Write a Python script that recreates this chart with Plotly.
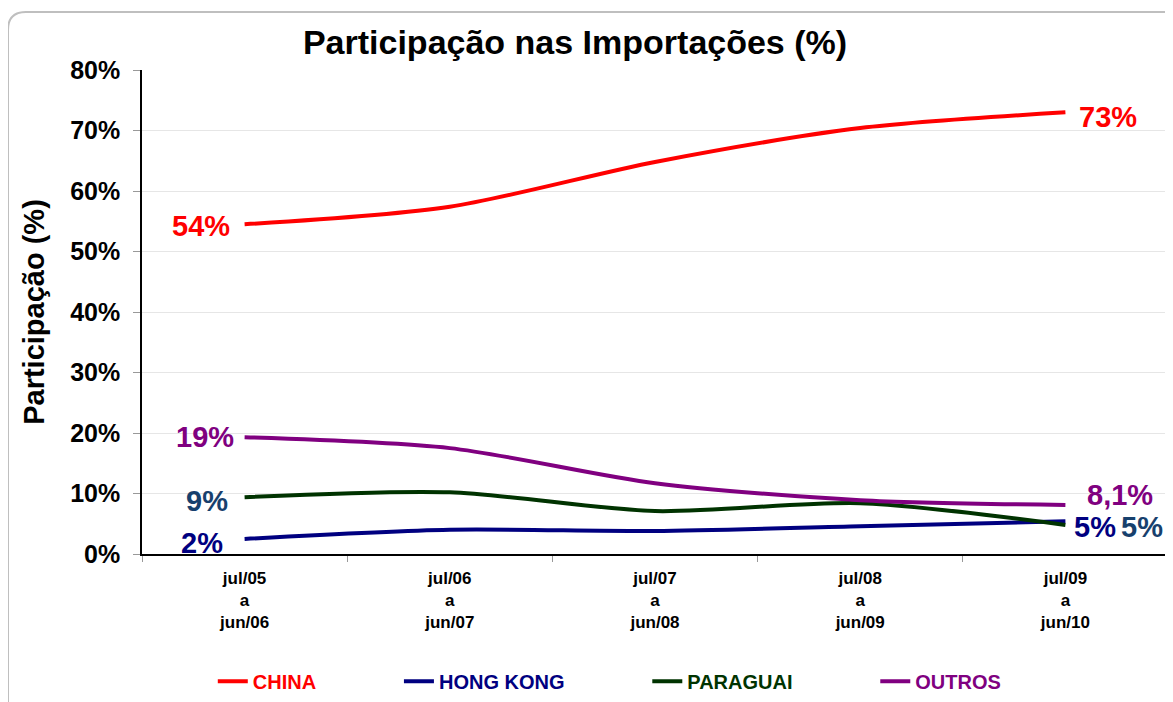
import plotly.graph_objects as go

# --- dados ---
periodos = ['jul/05<br>a<br>jun/06', 'jul/06<br>a<br>jun/07', 'jul/07<br>a<br>jun/08',
            'jul/08<br>a<br>jun/09', 'jul/09<br>a<br>jun/10']
china = [54.5, 57.4, 64.8, 70.4, 73.0]
hong_kong = [2.5, 4.0, 3.8, 4.6, 5.4]
paraguai = [9.4, 10.2, 7.1, 8.4, 4.8]
outros = [19.3, 17.5, 11.7, 8.9, 8.1]

rotulos_ini = ['54%', '2%', '9%', '19%']
rotulos_fim = ['73%', '5%', '5%', '8,1%']

SERIES = [
    ('CHINA', china, '#FF0000', '#FF0000'),
    ('HONG KONG', hong_kong, '#000080', '#000080'),
    ('PARAGUAI', paraguai, '#003300', '#17406D'),
    ('OUTROS', outros, '#800080', '#800080'),
]

FONTE = 'Arial, Liberation Sans, sans-serif'

# deslocamentos (px) dos rótulos: (xshift, yshift)
DESL_INI = {'CHINA': (-13, -2), 'HONG KONG': (-20, -4), 'PARAGUAI': (-15, -4), 'OUTROS': (-9, 0)}
DESL_FIM = {'CHINA': (12, -5), 'HONG KONG': (7, -6), 'PARAGUAI': (54, -2), 'OUTROS': (20, 10)}

fig = go.Figure()
for nome, valores, cor, _ in SERIES:
    fig.add_trace(go.Scatter(
        x=periodos, y=valores, mode='lines', line=dict(color=cor, width=4, shape='spline', smoothing=0.8),
        name=f"<b><span style='color:{cor}'>{nome}</span></b>" + '\u00a0' * 14,
        hoverinfo='skip'
    ))

# rótulos de início e fim
anots = []
for i, (nome, valores, cor, cor_rot) in enumerate(SERIES):
    xs, ys = DESL_INI[nome]
    anots.append(dict(x=periodos[0], y=valores[0], text=f'<b>{rotulos_ini[i]}</b>', showarrow=False,
                      xanchor='right', xshift=xs, yshift=ys,
                      font=dict(size=29, color=cor_rot, family=FONTE)))
    xs, ys = DESL_FIM[nome]
    anots.append(dict(x=periodos[-1], y=valores[-1], text=f'<b>{rotulos_fim[i]}</b>', showarrow=False,
                      xanchor='left', xshift=xs, yshift=ys,
                      font=dict(size=29, color=cor_rot, family=FONTE)))

# a página tem 8px de margem no corpo; as margens compensam isso
fig.update_layout(
    width=1173, height=702,
    paper_bgcolor='white', plot_bgcolor='white',
    margin=dict(l=134, r=13, t=62, b=156, autoexpand=False),
    font=dict(family=FONTE, color='black'),
    title=dict(text='<b>Participação nas Importações (%)</b>', x=0.4834, xanchor='center',
               y=0.9516, yanchor='middle', font=dict(size=34, color='black', family=FONTE)),
    showlegend=True,
    legend=dict(orientation='h', x=0.069, xanchor='left', y=-0.263, yanchor='middle',
                font=dict(size=20, family=FONTE), itemwidth=30, bgcolor='rgba(0,0,0,0)'),
    annotations=anots,
)

fig.update_xaxes(
    type='category', range=[-0.5, 4.5], tickson='boundaries', ticks='outside', ticklen=6,
    tickcolor='#999999', showline=True, linecolor='black', linewidth=1.5, showgrid=False,
    automargin=False, tickfont=dict(size=17, family=FONTE, color='black'), ticklabelstandoff=8,
    tickprefix='<b>', ticksuffix='</b>',
)
fig.update_yaxes(
    range=[0, 80], dtick=10, ticks='outside', ticklen=7, tickcolor='#999999',
    showline=True, linecolor='black', linewidth=1.5, showgrid=True, gridcolor='#E6E6E6',
    zeroline=False, tickfont=dict(size=25, family=FONTE, color='black'), automargin=False,
    ticklabelstandoff=8, tickprefix='<b>', ticksuffix='%</b>',
    title=dict(text='<b>Participação (%)</b>', font=dict(size=29, family=FONTE, color='black'),
               standoff=17),
)

# moldura arredondada
fig.add_shape(type='path', xref='paper', yref='paper',
              path='M -0.1306,1.0826 Q -0.1306,1.1198 -0.1131,1.1198 L 1.002,1.1198 L 1.002,-0.31 L -0.1306,-0.31 Z',
              line=dict(color='#BFBFBF', width=2), layer='below')

fig.write_html('out.html')
